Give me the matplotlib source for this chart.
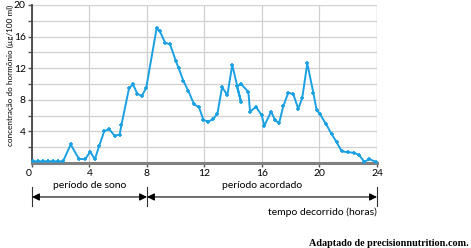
import numpy as np
import matplotlib
matplotlib.use('Agg')
import matplotlib.pyplot as plt

# horas decorridas e concentração do hormônio (µg/100 ml)
horas = [0.07, 0.42, 0.77, 1.12, 1.46, 1.81, 2.16, 2.69, 3.27, 3.71,
         4.05, 4.37, 4.68, 5.02, 5.36, 5.75, 6.10, 6.22, 6.75, 7.03,
         7.33, 7.65, 7.95, 8.67, 8.90, 9.27, 9.60, 10.00, 10.20, 10.53,
         10.88, 11.27, 11.62, 11.92, 12.26, 12.60, 12.90, 13.22, 13.59, 13.93,
         14.54, 14.24, 14.57, 15.05, 15.17, 15.58, 15.98, 16.16, 16.63, 16.92,
         17.19, 17.48, 17.83, 18.18, 18.52, 18.80, 19.15, 19.57, 19.80, 20.03,
         20.43, 20.85, 21.20, 21.54, 21.96, 22.42, 22.75, 23.12, 23.47, 23.90]
concentracao = [0.2, 0.2, 0.2, 0.2, 0.2, 0.2, 0.2, 2.35, 0.5, 0.5,
                1.45, 0.45, 2.2, 4.0, 4.3, 3.45, 3.6, 4.8, 9.45, 9.95,
                8.75, 8.5, 9.55, 17.05, 16.65, 15.2, 15.05, 12.95, 12.0, 10.4,
                9.1, 7.45, 7.05, 5.45, 5.25, 5.55, 6.25, 9.6, 8.6, 12.4,
                7.75, 9.75, 9.95, 9.0, 6.5, 7.1, 6.05, 4.7, 6.5, 5.4,
                5.05, 7.2, 8.9, 8.7, 6.85, 8.25, 12.6, 8.9, 6.7, 6.2,
                5.0, 3.65, 2.6, 1.5, 1.35, 1.3, 1.0, 0.15, 0.5, 0.15]

xticks = [0, 4, 8, 12, 16, 20, 24]
yticks = [4, 8, 12, 16, 20]
periodos = [(0, 8, 'período de sono'), (8, 24, 'período acordado')]

plt.rcParams['font.family'] = ['Lato', 'DejaVu Sans']

fig = plt.figure(figsize=(4.71, 2.48), dpi=100)
ax = fig.add_axes([32/471, 1-163/248, 345/471, 158/248])

ax.plot(horas, concentracao, color='#1ba1e2', lw=1.4, marker='+',
        ms=3, mew=1.2, zorder=3, clip_on=False)

ax.set_xlim(0, 24)
ax.set_ylim(0, 20)
ax.set_xticks(xticks)
ax.set_yticks(yticks)
ax.set_yticks(np.arange(2, 20, 4), minor=True)
ax.tick_params(labelsize=7.5, length=3, width=1, color='#555', pad=1.5)
ax.tick_params(which='minor', length=3, width=1, color='#555')
ax.get_xticklabels()[0].set_ha('right')
ax.grid(True, color='#d0d0d0', lw=0.9)
ax.grid(True, which='minor', axis='y', color='#d0d0d0', lw=0.9)
ax.set_axisbelow(True)

for s in ['top', 'right']:
    ax.spines[s].set_visible(False)
ax.spines['left'].set_color('#444')
ax.spines['left'].set_linewidth(1.3)
ax.spines['bottom'].set_color('#808080')
ax.spines['bottom'].set_linewidth(2.2)
ax.axvline(24, color='#d0d0d0', lw=0.9, zorder=0)

ax.set_ylabel('concentração do hormônio (µg/100 ml)', fontsize=5.9)
ax.yaxis.set_label_coords(-0.052, 0.555)

# setas dos períodos abaixo do eixo
tr = ax.get_xaxis_transform()
for x in [0, 8, 24]:
    ax.plot([x, x], [-0.155, -0.275], transform=tr, color='#333', lw=0.8, clip_on=False)
for a, b, nome in periodos:
    ax.annotate('', xy=(b, -0.215), xytext=(a, -0.215), xycoords=tr, textcoords=tr,
                arrowprops=dict(arrowstyle='<|-|>', color='black', lw=0.8,
                                mutation_scale=11, shrinkA=0, shrinkB=0))
    ax.text((a + b) / 2, -0.145, nome, transform=tr,
            ha='center', va='center', fontsize=7.5)

ax.text(24, -0.31, 'tempo decorrido (horas)', transform=tr, ha='right',
        va='center', fontsize=7.5)
fig.text(469/471, 1-243/248, 'Adaptado de precisionnutrition.com.', ha='right',
         va='center', fontsize=7.3, family='Liberation Serif', weight='bold')

fig.savefig('out.png', dpi=100)
